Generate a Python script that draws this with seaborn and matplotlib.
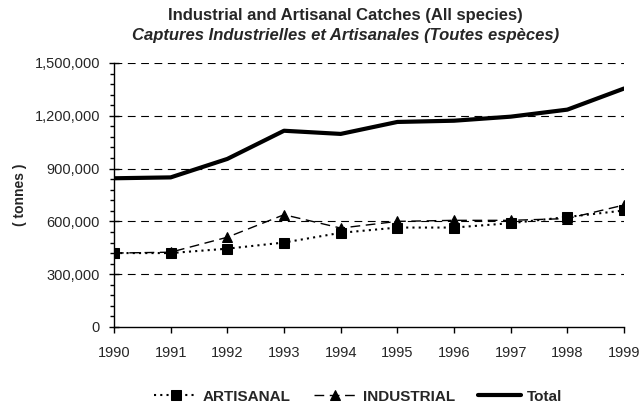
import matplotlib
matplotlib.use('Agg')
import matplotlib.pyplot as plt
import seaborn as sns
import pandas as pd
from matplotlib.ticker import FuncFormatter, MultipleLocator

sns.set_style('white')
plt.rcParams['font.family'] = ['Liberation Sans', 'DejaVu Sans']

years = [1990, 1991, 1992, 1993, 1994, 1995, 1996, 1997, 1998, 1999]
artisanal = [420000, 420000, 445000, 480000, 535000, 565000, 565000, 590000, 625000, 662000]
industrial = [420000, 425000, 510000, 638000, 562000, 600000, 606000, 606000, 616000, 693000]
total = [845000, 850000, 955000, 1115000, 1097000, 1165000, 1172000, 1195000, 1235000, 1355000]

df = pd.DataFrame({'year': years, 'ARTISANAL': artisanal,
                   'INDUSTRIAL': industrial, 'Total': total})

fig = plt.figure(figsize=(6.43, 4.09), dpi=100)
ax = fig.add_axes([0.1773, 0.2005, 0.7932, 0.6455])

# the three series
sns.lineplot(data=df, x='year', y='ARTISANAL', ax=ax, color='black', lw=1.5,
             linestyle=(0, (1, 2)), marker='s', markersize=7, mec='black',
             label='ARTISANAL')
sns.lineplot(data=df, x='year', y='INDUSTRIAL', ax=ax, color='black', lw=1,
             linestyle=(0, (7, 4)), marker='^', markersize=7, mec='black',
             label='INDUSTRIAL')
sns.lineplot(data=df, x='year', y='Total', ax=ax, color='black', lw=3,
             label='Total')

ax.set_xlim(1990, 1999)
ax.set_ylim(0, 1500000)
ax.set_xticks(years)
ax.yaxis.set_major_locator(MultipleLocator(300000))
ax.yaxis.set_minor_locator(MultipleLocator(60000))
ax.yaxis.set_major_formatter(FuncFormatter(lambda v, p: f'{int(v):,}'))
ax.tick_params(axis='y', which='major', direction='inout', length=7,
               width=1, labelsize=10.5, color='black', left=True, pad=6.5)
ax.tick_params(axis='y', which='minor', direction='out', length=3,
               width=1, color='black', left=True)
ax.tick_params(axis='x', which='major', direction='out', length=4,
               width=1, labelsize=10.5, color='black', bottom=True, pad=10)

# dashed reference lines
for v in range(300000, 1500001, 300000):
    ax.axhline(v, color='black', lw=0.8, linestyle=(0, (7, 5)), zorder=0)

for s in ['top', 'right']:
    ax.spines[s].set_visible(False)
for s in ['left', 'bottom']:
    ax.spines[s].set_color('black')
    ax.spines[s].set_linewidth(1)

ax.set_xlabel('')
ax.set_ylabel('( tonnes )', fontsize=10, fontweight='bold')
ax.yaxis.set_label_coords(-0.17, 0.5)

fig.text(0.537, 0.963, 'Industrial and Artisanal Catches (All species)',
         ha='center', va='center', fontsize=12, fontweight='bold')
fig.text(0.537, 0.913, 'Captures Industrielles et Artisanales (Toutes espèces)',
         ha='center', va='center', fontsize=12, fontweight='bold', style='italic')

ax.legend(loc='center', bbox_to_anchor=(0.557, 0.03), bbox_transform=fig.transFigure,
          ncol=3, frameon=False, prop={'weight': 'bold', 'size': 11},
          handlelength=2.8, columnspacing=1.5, handletextpad=0.4,
          borderpad=0, borderaxespad=0)

fig.savefig('out.png', dpi=100)
